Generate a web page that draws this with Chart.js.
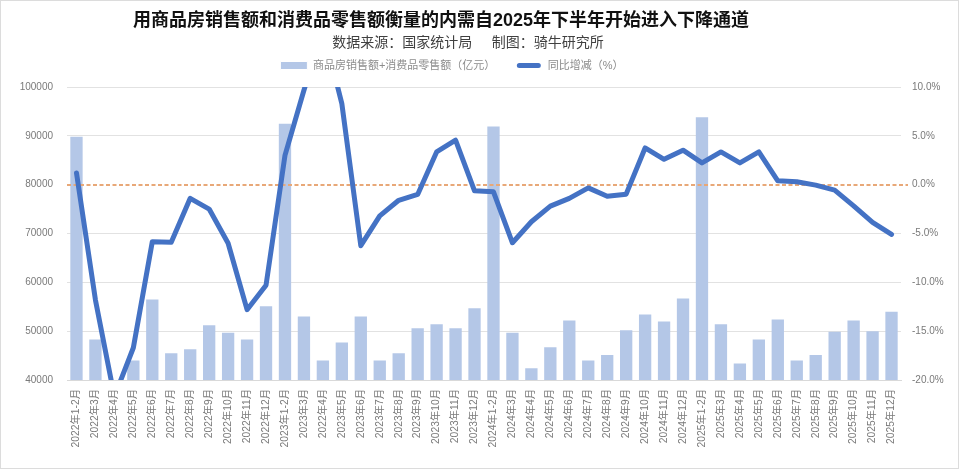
<!DOCTYPE html>
<html lang="zh">
<head>
<meta charset="utf-8">
<title>内需</title>
<script src="https://cdn.jsdelivr.net/npm/chart.js@4"></script>
<style>
html,body{margin:0;padding:0;background:#fff;overflow:hidden}
#frame{position:absolute;left:0;top:0;width:957px;height:467px;border:1.5px solid #dcdcdc;pointer-events:none}
canvas{position:absolute;left:0;top:0}
</style>
</head>
<body>
<canvas id="c" width="960" height="470"></canvas>
<div id="frame"></div>
<script>
const titleText = '用商品房销售额和消费品零售额衡量的内需自2025年下半年开始进入下降通道';
const subtitleText = '数据来源：国家统计局     制图：骑牛研究所';
const barLabel = '商品房销售额+消费品零售额（亿元）';
const lineLabel = '同比增减（%）';
const categories = [
 '2022年1-2月','2022年3月','2022年4月','2022年5月','2022年6月','2022年7月','2022年8月','2022年9月','2022年10月','2022年11月','2022年12月',
 '2023年1-2月','2023年3月','2022年4月','2023年5月','2023年6月','2023年7月','2023年8月','2023年9月','2023年10月','2023年11月','2023年12月',
 '2024年1-2月','2024年3月','2024年4月','2024年5月','2024年6月','2024年7月','2024年8月','2024年9月','2024年10月','2024年11月','2024年12月',
 '2025年1-2月','2025年3月','2025年4月','2025年5月','2025年6月','2025年7月','2025年8月','2025年9月','2025年10月','2025年11月','2025年12月'];
const salesValues = [
 89800,48300,null,44000,56500,45500,46300,51200,49700,48300,55100,
 92500,53000,44000,47700,53000,44000,45500,50600,51400,50600,54700,
 91900,49700,42400,46700,52200,44000,45100,50200,53400,52000,56700,
 93800,51400,43400,48300,52400,44000,45100,49900,52200,50000,54000];
const yoyValues = [
 1.2,-11.8,-21.7,-16.7,-5.85,-5.9,-1.4,-2.5,-6.0,-12.8,-10.3,
 3.0,9.66,16.0,8.3,-6.25,-3.2,-1.6,-1.0,3.35,4.55,-0.63,
 -0.73,-5.95,-3.8,-2.2,-1.4,-0.33,-1.18,-0.97,3.76,2.6,3.53,
 2.23,3.35,2.23,3.35,0.4,0.3,-0.05,-0.56,-2.17,-3.87,-5.1];
const zeroLevel = 0;
const zeroLevelOnLeftAxis = 80000;

const sansFont = '"Liberation Sans","Noto Sans CJK SC",sans-serif';
const tickColor = '#7a7a7a';

const placement = {
  id: 'placement',
  afterLayout(chart) {
    for (const b of chart.boxes) {
      if (b === chart.legend) { b.left -= 28; b.right -= 28; b.top -= 6; b.bottom -= 6; }
      else if (b === chart.titleBlock) { b.left -= 39; b.right -= 39; }
      else if (b.options && b.options.text === subtitleText) { b.left -= 12; b.right -= 12; }
    }
  }
};
const zeroRule = {
  id: 'zeroRule',
  beforeDatasetDraw(chart, args) {
    if (args.index !== 1) return;
    const y = Math.round(chart.scales.y1.getPixelForValue(zeroLevel));
    const ctx = chart.ctx;
    ctx.save();
    ctx.strokeStyle = '#e8a878';
    ctx.lineWidth = 2;
    ctx.setLineDash([4, 2.5]);
    ctx.beginPath();
    ctx.moveTo(chart.chartArea.left, y);
    ctx.lineTo(chart.chartArea.right + 7, y);
    ctx.stroke();
    ctx.restore();
  }
};

new Chart(document.getElementById('c'), {
  data: {
    labels: categories,
    datasets: [
      { type: 'bar', label: barLabel, data: salesValues, yAxisID: 'y', order: 2,
        backgroundColor: '#b4c7e7', borderWidth: 0, barPercentage: 0.65, categoryPercentage: 1, clip: 0 },
      { type: 'line', label: lineLabel, data: yoyValues, yAxisID: 'y1', order: 1,
        borderColor: '#4472c4', backgroundColor: '#4472c4', borderWidth: 5, pointRadius: 0, tension: 0,
        borderCapStyle: 'round', borderJoinStyle: 'round', clip: 0 }
    ]
  },
  options: {
    responsive: false,
    animation: false,
    devicePixelRatio: 1,
    layout: { padding: 0 },
    plugins: {
      title: { display: true, text: titleText, color: '#111',
        font: { family: sansFont, size: 18, weight: 'bold', lineHeight: 1.2 }, padding: { top: 10, bottom: 2 } },
      subtitle: { display: true, text: subtitleText, color: '#404040',
        font: { family: sansFont, size: 14, weight: 'normal', lineHeight: 1.2 }, padding: { top: 1, bottom: -5.4 } },
      legend: { display: true, position: 'top',
        labels: { color: '#8c8c8c', boxWidth: 27, boxHeight: 8, padding: 20, useBorderRadius: true, borderRadius: 0,
          font: { family: sansFont, size: 11 },
          sort: (a, b) => a.datasetIndex - b.datasetIndex,
          generateLabels(chart) {
            const items = Chart.defaults.plugins.legend.labels.generateLabels(chart);
            for (const it of items) {
              it.strokeStyle = '#ffffff';
              if (it.datasetIndex === 1) { it.lineWidth = 3; it.borderRadius = 4; it.fillStyle = '#4472c4'; }
              else { it.lineWidth = 1; it.fillStyle = '#b4c7e7'; }
            }
            return items;
          } } },
      tooltip: { enabled: false }
    },
    scales: {
      x: {
        grid: { display: false, drawTicks: false },
        border: { color: '#d9d9d9' },
        afterFit(s) { s.height = 90; },
        ticks: { color: tickColor, autoSkip: false, minRotation: 90, maxRotation: 90, padding: 9,
          font: { family: sansFont, size: 10.3 } }
      },
      y: {
        position: 'left', min: 40000, max: 100000,
        afterFit(s) { s.width = 67; },
        grid: { drawTicks: false,
          color: c => (c.tick && c.tick.value === zeroLevelOnLeftAxis) ? 'rgba(0,0,0,0)' : '#e2e2e2' },
        border: { display: false },
        ticks: { stepSize: 10000, color: tickColor, padding: 14, font: { family: sansFont, size: 10 },
          callback: v => String(v) }
      },
      y1: {
        position: 'right', min: -20, max: 10,
        afterFit(s) { s.width = 59; },
        grid: { display: false, drawTicks: false },
        border: { display: false },
        ticks: { stepSize: 5, color: tickColor, padding: 11, font: { family: sansFont, size: 10 },
          callback: v => v.toFixed(1) + '%' }
      }
    }
  },
  plugins: [placement, zeroRule]
});
</script>
</body>
</html>
